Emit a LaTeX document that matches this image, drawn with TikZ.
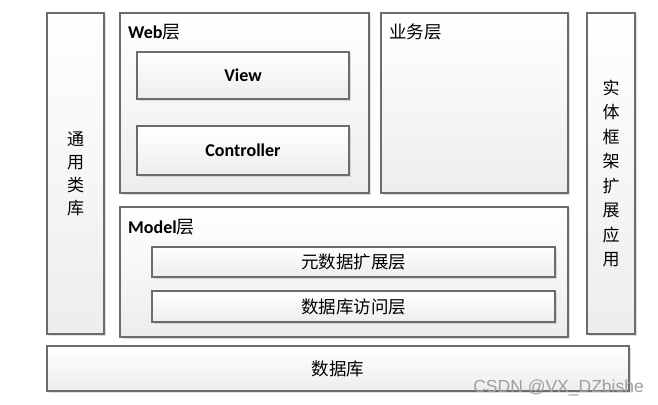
\documentclass[tikz,border=0pt]{standalone}
\usepackage{fontspec}
\setmainfont{Carlito}
\newfontfamily\cjk{Noto Sans CJK SC}
\newfontfamily\wmfont{Liberation Sans}
\usetikzlibrary{shadows}

\tikzset{
  layer/.style={draw=gray!85!black, line width=1.2pt, rectangle, inner sep=0pt,
    top color=white, bottom color=gray!14,
    drop shadow={shadow xshift=1.5pt, shadow yshift=-1.5pt, opacity=0.25}},
  lbl/.style={inner sep=0pt, font=\fontsize{18}{20}\selectfont\bfseries},
  cjklbl/.style={inner sep=0pt, font=\fontsize{17.5}{20}\selectfont\cjk},
}

\begin{document}
\begin{tikzpicture}[x=1pt,y=-1pt]
  \useasboundingbox[fill=white] (0,0) rectangle (658,404);

  %%%% outer columns
  \node[layer, minimum width=57pt, minimum height=321pt] (lib) at (75.5,173.5) {};
  \node[layer, minimum width=48pt, minimum height=321pt] (ef) at (611,173.5) {};
  \node[cjklbl, align=center, font=\fontsize{17}{23}\selectfont\cjk] (libtxt) at (lib) {通\\用\\类\\库};
  \node[cjklbl, align=center, font=\fontsize{17}{24.5}\selectfont\cjk] (eftxt) at (ef) {实\\体\\框\\架\\扩\\展\\应\\用};

  %%%% Web
  \node[layer, minimum width=249pt, minimum height=180pt] (web) at (244.5,103) {};
  \node[lbl, anchor=west] (webtxt) at (128,32) {Web{\mdseries\cjk 层}};
  \node[layer, minimum width=212pt, minimum height=47pt] (view) at (243,75.5) {};
  \node[lbl] (viewtxt) at (view) {View};
  \node[layer, minimum width=212pt, minimum height=49pt] (ctrl) at (243,150.5) {};
  \node[lbl] (ctrltxt) at (ctrl) {Controller};

  %%%% business
  \node[layer, minimum width=187pt, minimum height=180pt] (biz) at (474.5,103) {};
  \node[cjklbl, anchor=west] (biztxt) at (389,32) {业务层};

  %%%% Model
  \node[layer, minimum width=448pt, minimum height=130pt] (model) at (344,272) {};
  \node[lbl, anchor=west] (modeltxt) at (128,227) {Model{\mdseries\cjk 层}};
  \node[layer, minimum width=403pt, minimum height=30pt] (meta) at (353.5,262) {};
  \node[cjklbl] (metatxt) at (meta) {元数据扩展层};
  \node[layer, minimum width=403pt, minimum height=31pt] (dao) at (353.5,306.5) {};
  \node[cjklbl] (daotxt) at (dao) {数据库访问层};

  %%%% database
  \node[layer, minimum width=582pt, minimum height=45pt] (db) at (338,368.5) {};
  \node[cjklbl] (dbtxt) at (db) {数据库};

  \node[anchor=east, inner sep=0pt, text=gray!75, font=\fontsize{17.5}{19}\selectfont\wmfont] (wm) at (644,388) {CSDN @VX\_DZbishe};
\end{tikzpicture}
\end{document}
